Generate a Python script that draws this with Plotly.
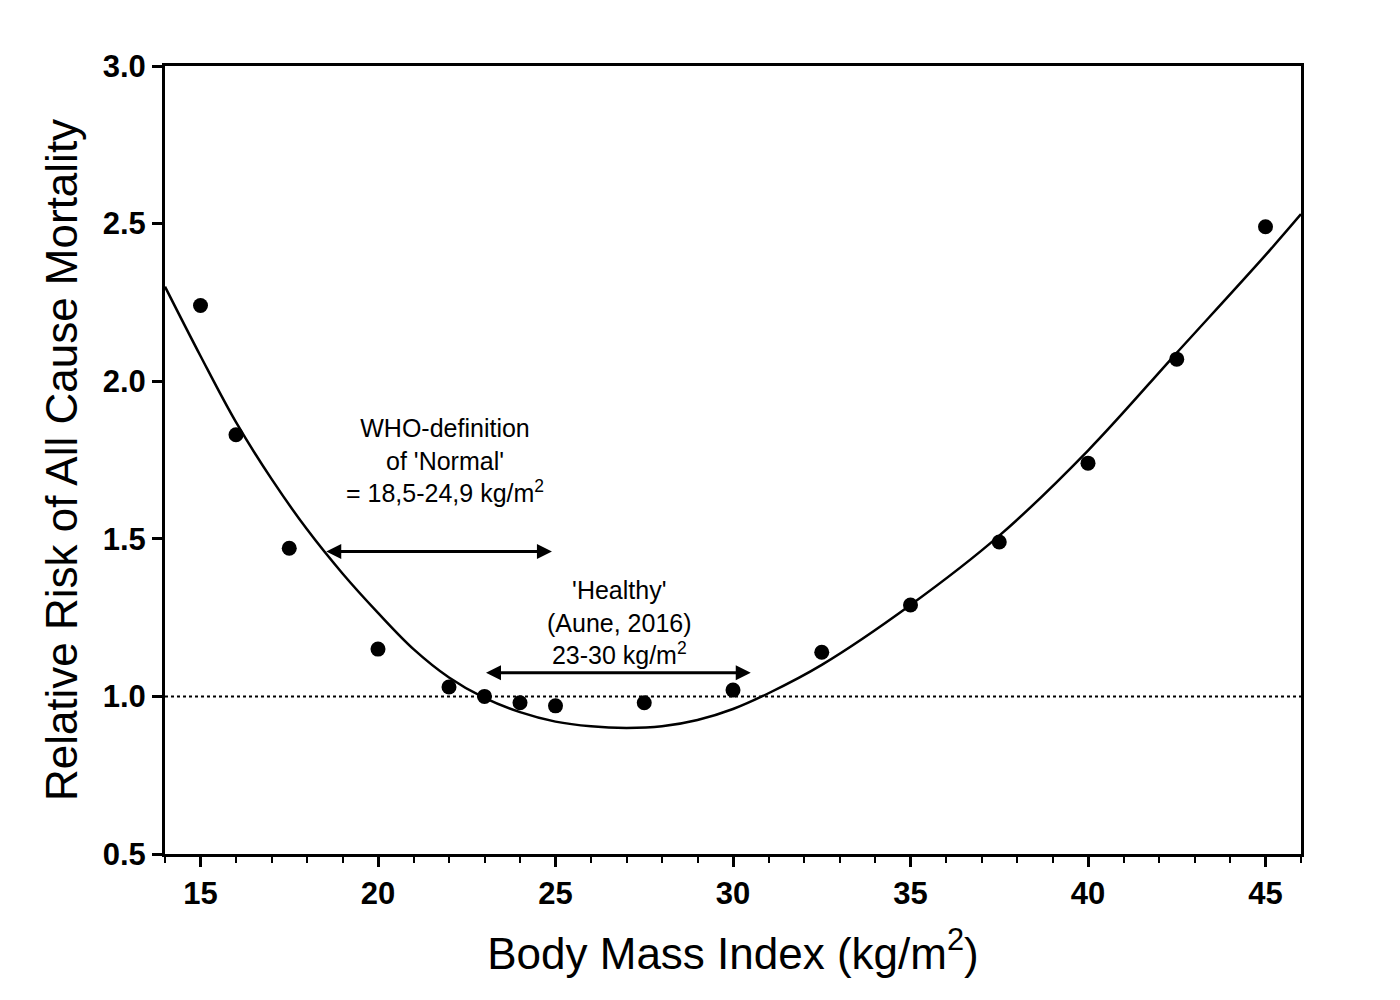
import plotly.graph_objects as go

# observed points
bmi = [15, 16, 17.5, 20, 22, 23, 24, 25, 27.5, 30, 32.5, 35, 37.5, 40, 42.5, 45]
rr = [2.24, 1.83, 1.47, 1.15, 1.03, 1.00, 0.98, 0.97, 0.98, 1.02, 1.14, 1.29, 1.49, 1.74, 2.07, 2.49]

# fitted curve
curve_x = [14, 15, 16, 17, 18, 19, 20, 21, 22, 23, 24, 25, 26, 27, 28, 29, 30, 31, 32.5, 35, 37.5, 40, 42.5, 45, 46]
curve_y = [2.30, 2.08, 1.87, 1.69, 1.53, 1.39, 1.265, 1.15, 1.06, 0.995, 0.95, 0.92, 0.905, 0.90, 0.905, 0.925, 0.96, 1.01, 1.10, 1.29, 1.51, 1.78, 2.09, 2.40, 2.53]

fig = go.Figure()
fig.add_trace(go.Scatter(x=[14, 46], y=[1, 1], mode='lines',
                         line=dict(color='black', width=2, dash='dot'), hoverinfo='skip'))
fig.add_trace(go.Scatter(x=curve_x, y=curve_y, mode='lines',
                         line=dict(color='black', width=2.5, shape='spline', smoothing=1.0), hoverinfo='skip'))
fig.add_trace(go.Scatter(x=bmi, y=rr, mode='markers',
                         marker=dict(color='black', size=15)))

def arrow(x0, x1, y):
    fig.add_annotation(x=x1, y=y, ax=x0, ay=y, xref='x', yref='y', axref='x', ayref='y',
                       text='', showarrow=True, arrowhead=2, arrowside='end+start',
                       arrowsize=1, arrowwidth=3, arrowcolor='black')

arrow(18.5, 24.9, 1.46)
arrow(23.0, 30.5, 1.075)

fig.add_annotation(x=21.9, y=1.75, xref='x', yref='y', showarrow=False,
                   text="WHO-definition<br>of 'Normal'<br>= 18,5-24,9 kg/m<sup>2</sup>",
                   font=dict(size=25, color='black', family='Liberation Sans'))
fig.add_annotation(x=26.8, y=1.235, xref='x', yref='y', showarrow=False,
                   text="'Healthy'<br>(Aune, 2016)<br>23-30 kg/m<sup>2</sup>",
                   font=dict(size=25, color='black', family='Liberation Sans'))

axis_common = dict(showline=True, linecolor='black', linewidth=3, mirror=True,
                   ticks='outside', tickwidth=3, ticklen=10, tickcolor='black',
                   showgrid=False, zeroline=False,
                   tickfont=dict(size=31, color='black', family='Liberation Sans'))

fig.update_layout(
    width=1400, height=1000,
    margin=dict(l=157, r=107, t=58, b=154),
    plot_bgcolor='white', paper_bgcolor='white', showlegend=False,
    xaxis=dict(range=[14, 46], tickvals=[15, 20, 25, 30, 35, 40, 45],
               ticktext=['<b>%d</b>' % v for v in [15, 20, 25, 30, 35, 40, 45]],
               minor=dict(dtick=1, tick0=14, ticks='outside', ticklen=6, tickwidth=2, tickcolor='black'),
               title=dict(text='Body Mass Index (kg/m<sup>2</sup>)', standoff=28,
                          font=dict(size=44, color='black', family='Liberation Sans')),
               **axis_common),
    yaxis=dict(range=[0.5, 3.0], tickvals=[0.5, 1.0, 1.5, 2.0, 2.5, 3.0],
               ticktext=['<b>%.1f</b>' % v for v in [0.5, 1.0, 1.5, 2.0, 2.5, 3.0]],
               title=dict(text='Relative Risk of All Cause Mortality', standoff=12,
                          font=dict(size=44, color='black', family='Liberation Sans')),
               **axis_common),
)

fig.write_html("out.html")
